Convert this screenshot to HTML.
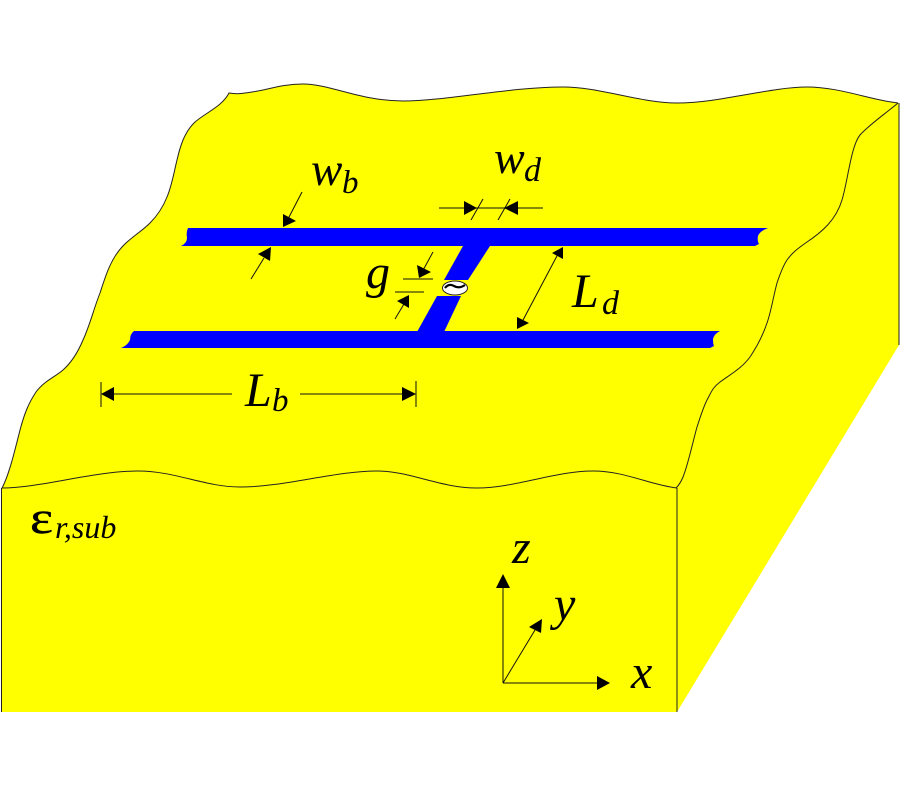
<!DOCTYPE html>
<html>
<head>
<meta charset="utf-8">
<style>
html,body{margin:0;padding:0;background:#fff;width:900px;height:800px;overflow:hidden}
svg{display:block}
text{font-family:"Liberation Serif",serif;font-style:italic;fill:#000}
</style>
</head>
<body>
<svg width="900" height="800" viewBox="0 0 900 800" xmlns="http://www.w3.org/2000/svg">
<!-- substrate fill -->
<path fill="#ffff00" d="M1.5,712 L1.5,488 L2,488 C9,475 15,450 20,430 C24,415 28,404 36,392 C44,381 55,377 63,370 C72,362 78,352 83,340 C90,325 94,308 100,293 C105,278 110,260 122,247 C130,238 141,232 150,223 C158,215 163,207 167,197 C172,185 174,172 177,160 C180,147 184,133 194,123 C203,114 222,107 229,93 C235,94 240,94 245,93 C265,91 280,84 303,84 C330,84 360,101 403,101 C445,101 510,87 563,87 C600,87 640,103 677,103 C720,103 770,87 807,87 C840,87 870,100 899,103 L899,345 L677,712 Z"/>
<g fill="none" stroke="#222" stroke-width="1">
<path d="M2,488 C9,475 15,450 20,430 C24,415 28,404 36,392 C44,381 55,377 63,370 C72,362 78,352 83,340 C90,325 94,308 100,293 C105,278 110,260 122,247 C130,238 141,232 150,223 C158,215 163,207 167,197 C172,185 174,172 177,160 C180,147 184,133 194,123 C203,114 222,107 229,93 C235,94 240,94 245,93 C265,91 280,84 303,84 C330,84 360,101 403,101 C445,101 510,87 563,87 C600,87 640,103 677,103 C720,103 770,87 807,87 C840,87 870,100 898,103"/>
<path d="M898,103 C885,114 870,124 860,135 C851,146 848,180 842,200 C836,220 822,232 807,242 C797,249 792,253 787,260 C783,266 780,274 777,283 C773,298 771,312 767,323 C763,335 756,348 750,357 C742,368 731,374 720,382 C712,388 711,393 707,400 C703,408 700,418 697,427 C692,445 688,465 683,477 C681,482 678,486 676,488"/>
<path d="M2,488 C40,488 95,471 138,471 C175,471 205,487 240,487 C285,487 335,471 377,471 C410,471 440,488 477,488 C515,488 555,471 593,471 C625,471 650,485 677,488"/>
<path d="M1.5,488 V712"/>
<path d="M677,488 V712"/>
<path d="M899,103 V345"/>
</g>
<!-- dipole -->
<g fill="#0000ff">
<path d="M188,228 L768,228 Q760,231 758,236 Q757,241 759,244 L755,246 L181,246 Q187,243 187,238 Q186,232 188,228 Z"/>
<path d="M134,331 L720,331 Q714,334 713,339 Q713,344 714,346 L710,348 L121,348 Q128,345 130,340 Q130,334 134,331 Z"/>
<path d="M463,246 L490,246 L468,280 L444,280 Z"/>
<path d="M437,296 L461,296 L444,332 L417,332 Z"/>
</g>
<!-- source -->
<ellipse cx="455" cy="288" rx="12.5" ry="7" fill="#fff" stroke="#222" stroke-width="1"/>
<path d="M445,288 Q449,283 454,286 Q459,289 465,285" fill="none" stroke="#000" stroke-width="2.2"/>
<!-- dimension lines -->
<g fill="none" stroke="#111" stroke-width="1">
<path d="M439,208 H543"/>
<path d="M483,199 L471,220"/>
<path d="M510,199 L498,220"/>
<path d="M433,252 L421,274"/>
<path d="M403,279 H433"/>
<path d="M395,292 H424"/>
<path d="M404,304 L395,319"/>
<path d="M558,254 L522,322"/>
<path d="M302,192 L288,219"/>
<path d="M264,258 L251,279"/>
<path d="M101,382 V407"/>
<path d="M416,381 V407"/>
<path d="M110,394 H232"/>
<path d="M300,394 H406"/>
<path d="M503,683 V584"/>
<path d="M503,683 H600"/>
<path d="M503,683 L535,630"/>
</g>
<!-- arrowheads -->
<g fill="#000">
<path d="M477,208 L464,201 L464,215 Z"/>
<path d="M504,208 L518,201 L518,215 Z"/>
<path d="M419,278 L417,265 L431,272 Z"/>
<path d="M409,295 L397,301 L409,308 Z"/>
<path d="M563,247 L552,253 L563,259 Z"/>
<path d="M517,329 L517,317 L529,323 Z"/>
<path d="M283,227 L283,214 L296,221 Z"/>
<path d="M271,247 L258,254 L270,261 Z"/>
<path d="M101,394 L114,387 L114,401 Z"/>
<path d="M416,394 L402,387 L402,401 Z"/>
<path d="M503,574 L496,588 L510,588 Z"/>
<path d="M610,683 L597,676 L597,690 Z"/>
<path d="M542,619 L529,627 L541,633 Z"/>
</g>
<!-- labels -->
<text x="311" y="185" font-size="47">w</text>
<text x="342" y="193" font-size="33">b</text>
<text x="494" y="173" font-size="46">w</text>
<text x="524" y="181" font-size="34">d</text>
<text x="366" y="288" font-size="48">g</text>
<text x="572" y="307" font-size="48">L</text>
<text x="602" y="314" font-size="34">d</text>
<text x="245" y="406" font-size="48">L</text>
<text x="272" y="411" font-size="33">b</text>
<text x="512" y="563" font-size="48">z</text>
<text x="554" y="620" font-size="48">y</text>
<text x="631" y="688" font-size="48">x</text>
<text x="30" y="533" font-size="46" textLength="23" lengthAdjust="spacingAndGlyphs" stroke="#000" stroke-width="0.4" style="font-style:normal">ε</text>
<text x="55" y="538" font-size="32">r,sub</text>
</svg>
</body>
</html>
